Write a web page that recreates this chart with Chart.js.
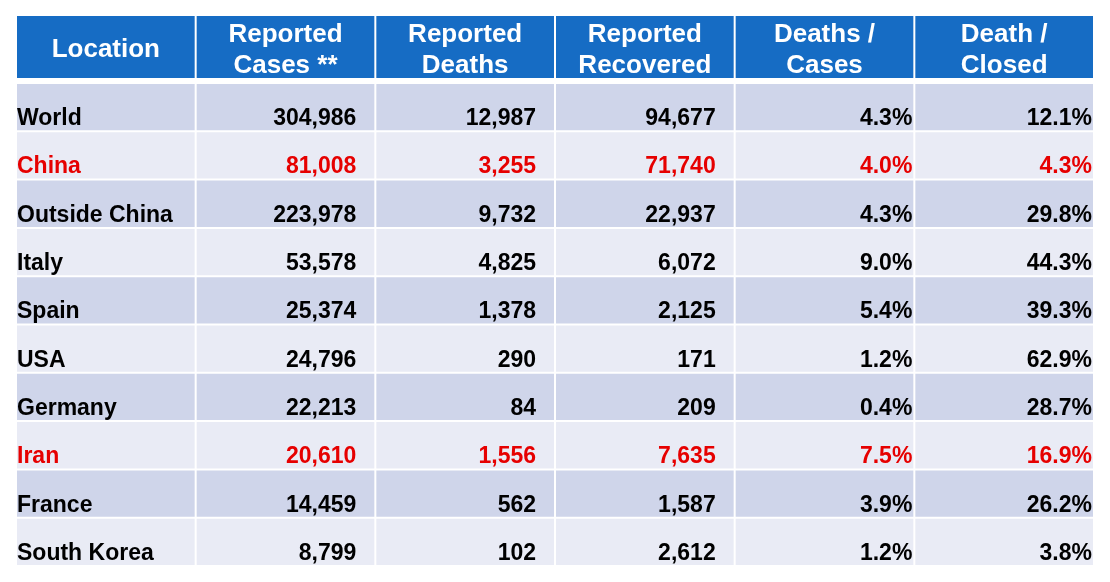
<!DOCTYPE html>
<html>
<head>
<meta charset="utf-8">
<title>Reported cases by location</title>
<script src="https://cdn.jsdelivr.net/npm/chart.js@4.4.1/dist/chart.umd.min.js"></script>
<style>
    html, body { margin: 0; padding: 0; background: #fff; }
    #wrap { width: 1110px; height: 582px; }
</style>
</head>
<body>
<div id="wrap"><canvas id="casesTable" width="1110" height="582"></canvas></div>
<script>
    // table data
    const headers = [['Location'], ['Reported', 'Cases **'], ['Reported', 'Deaths'], ['Reported', 'Recovered'], ['Deaths /', 'Cases'], ['Death /', 'Closed']];
    const locations = ['World', 'China', 'Outside China', 'Italy', 'Spain', 'USA', 'Germany', 'Iran', 'France', 'South Korea'];
    const cases = [304986, 81008, 223978, 53578, 25374, 24796, 22213, 20610, 14459, 8799];
    const deaths = [12987, 3255, 9732, 4825, 1378, 290, 84, 1556, 562, 102];
    const recovered = [94677, 71740, 22937, 6072, 2125, 171, 209, 7635, 1587, 2612];
    const deathsPerCase = [4.3, 4.0, 4.3, 9.0, 5.4, 1.2, 0.4, 7.5, 3.9, 1.2];
    const deathsPerClosed = [12.1, 4.3, 29.8, 44.3, 39.3, 62.9, 28.7, 16.9, 26.2, 3.8];
    const highlighted = ['China', 'Iran'];

    const headerColor = '#166CC4';
    const darkRow = '#CFD5EA';
    const lightRow = '#E9EBF5';
    const redText = '#E60000';
    const fontFamily = '"Liberation Sans", Arial, sans-serif';

    const fmtNum = v => v.toLocaleString('en-US');
    const fmtPct = v => v.toFixed(1) + '%';

    // one column of text per table column
    const columns = [
        { values: locations, fmt: v => v, align: 'left' },
        { values: cases, fmt: fmtNum, align: 'right', pad: 19 },
        { values: deaths, fmt: fmtNum, align: 'right', pad: 19 },
        { values: recovered, fmt: fmtNum, align: 'right', pad: 19 },
        { values: deathsPerCase, fmt: fmtPct, align: 'right', pad: 2 },
        { values: deathsPerClosed, fmt: fmtPct, align: 'right', pad: 2 }
    ];

    const rowColors = locations.map((l, i) => i % 2 === 0 ? darkRow : lightRow);

    // each column is a dataset of floating bars [c, c+1], one per row
    const datasets = headers.map((h, c) => ({
        label: h.join(' '),
        data: locations.map(l => ({ y: l, x: [c, c + 1] })),
        backgroundColor: rowColors,
        borderColor: '#ffffff',
        borderWidth: 1,
        borderSkipped: false,
        inflateAmount: 0
    }));

    const tableText = {
        id: 'tableText',
        afterDatasetsDraw(chart) {
            const { ctx, chartArea, scales: { x, y } } = chart;
            ctx.save();

            // header row, above the chart area
            ctx.textAlign = 'center';
            ctx.textBaseline = 'alphabetic';
            ctx.font = 'bold 26px ' + fontFamily;
            headers.forEach((lines, c) => {
                const left = x.getPixelForValue(c) + 1;
                const right = x.getPixelForValue(c + 1) - 1;
                ctx.fillStyle = headerColor;
                ctx.fillRect(left, chartArea.top - 67, right - left, 62);
                ctx.fillStyle = '#ffffff';
                const cx = (left + right) / 2;
                if (lines.length === 1) {
                    ctx.fillText(lines[0], cx, chartArea.top - 26);
                } else {
                    ctx.fillText(lines[0], cx, chartArea.top - 41);
                    ctx.fillText(lines[1], cx, chartArea.top - 10);
                }
            });

            // body cells
            ctx.font = 'bold 23px ' + fontFamily;
            locations.forEach((loc, i) => {
                const base = y.getPixelForValue(i) + 18;
                ctx.fillStyle = highlighted.includes(loc) ? redText : '#000000';
                columns.forEach((col, c) => {
                    const text = col.fmt(col.values[i]);
                    if (col.align === 'left') {
                        ctx.textAlign = 'left';
                        ctx.fillText(text, x.getPixelForValue(c) + 1, base);
                    } else {
                        ctx.textAlign = 'right';
                        ctx.fillText(text, x.getPixelForValue(c + 1) - col.pad, base);
                    }
                });
            });
            ctx.restore();
        }
    };

    const chart = new Chart(document.getElementById('casesTable').getContext('2d'), {
        type: 'bar',
        data: { labels: locations, datasets: datasets },
        options: {
            indexAxis: 'y',
            responsive: false,
            devicePixelRatio: 1,
            animation: false,
            grouped: false,
            barPercentage: 1,
            categoryPercentage: 1,
            layout: { padding: { top: 83, left: 16, right: 16, bottom: 16 } },
            plugins: {
                legend: { display: false },
                tooltip: { enabled: false }
            },
            scales: {
                x: { type: 'linear', min: 0, max: headers.length, display: false },
                y: { type: 'category', offset: true, display: false }
            }
        },
        plugins: [tableText]
    });
</script>
</body>
</html>
